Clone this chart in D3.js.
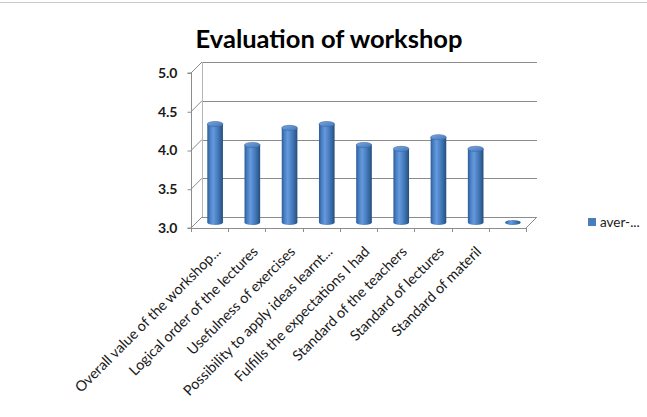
<!DOCTYPE html>
<html>
<head>
<meta charset="utf-8">
<script src="https://cdn.jsdelivr.net/npm/d3@7/dist/d3.min.js"></script>
<style>
  html, body { margin: 0; padding: 0; background: #fff; }
  svg { display: block; }
</style>
</head>
<body>
<svg id="chart" width="647" height="417"></svg>
<script>
// Workshop evaluation: average score per question (scale 3.0 - 5.0)
const categories = [
  "Overall value of the workshop...",
  "Logical order of the lectures",
  "Usefulness of exercises",
  "Possibility to apply ideas learnt...",
  "Fulfills the expectations I had",
  "Standard of the teachers",
  "Standard of lectures",
  "Standard of materil",
  ""
];
const averages = [4.27, 4.00, 4.22, 4.27, 4.00, 3.95, 4.10, 3.95, null];
const yTicks = [3.0, 3.5, 4.0, 4.5, 5.0];
const seriesName = "aver-...";
const titleText = "Evaluation of workshop";

const svg = d3.select("#chart");
const font = "Lato, 'Open Sans', sans-serif";

// frame of the chart area
svg.append("line").attr("x1", 0).attr("x2", 647).attr("y1", 2.5).attr("y2", 2.5)
  .attr("stroke", "#c8c8c8");

// front face of the 3-D plot box and its depth offset
const plotLeft = 191, plotRight = 526, plotBottom = 228, plotTop = 73;
const depthX = 11, depthY = -11;

const x = d3.scaleBand().domain(categories).range([plotLeft, plotRight])
  .paddingInner(0.58).paddingOuter(0.29);
const y = d3.scaleLinear().domain([yTicks[0], yTicks[yTicks.length - 1]]).range([plotBottom, plotTop]);

const gridColor = "#8c8c8c";
const walls = svg.append("g").attr("fill", "none").attr("stroke", gridColor).attr("stroke-width", 1);

// back-wall gridlines and side-wall diagonals
yTicks.forEach(t => {
  const yy = Math.round(y(t) + depthY) + 0.5;
  walls.append("line").attr("x1", plotLeft + depthX).attr("x2", plotRight + depthX).attr("y1", yy).attr("y2", yy);
  walls.append("line").attr("x1", plotLeft).attr("y1", y(t)).attr("x2", plotLeft + depthX).attr("y2", y(t) + depthY);
});
// back wall corner
walls.append("line").attr("x1", plotLeft + depthX + 0.5).attr("x2", plotLeft + depthX + 0.5)
  .attr("y1", y(yTicks[yTicks.length - 1]) + depthY).attr("y2", y(yTicks[0]) + depthY).attr("stroke", "#b5b5b5");
// floor front edge and right edge
walls.append("line").attr("x1", plotLeft).attr("x2", plotRight).attr("y1", plotBottom + 0.5).attr("y2", plotBottom + 0.5);
walls.append("line").attr("x1", plotRight).attr("y1", plotBottom).attr("x2", plotRight + depthX).attr("y2", plotBottom + depthY);

// value axis on the front-left edge
const yAxis = d3.axisLeft(y).tickValues(yTicks).tickFormat(d3.format(".1f")).tickSize(4).tickPadding(10);
const gy = svg.append("g").attr("transform", `translate(${plotLeft + 0.5},0)`).call(yAxis);
gy.select(".domain").attr("stroke", gridColor).attr("d", `M-4,${y(yTicks[yTicks.length - 1])}H0V${plotBottom}H-4`);
gy.selectAll(".tick line").attr("stroke", gridColor);
gy.selectAll(".tick text").attr("fill", "#1a1a1a")
  .style("font-family", font).style("font-size", "14px").style("font-weight", "bold");

// category ticks along the front floor edge (band boundaries)
const gap = x.step() - x.bandwidth();
const tickXs = categories.map(c => x(c) - gap / 2);
tickXs.push(plotRight);
svg.append("g").selectAll("line").data(tickXs).join("line")
  .attr("x1", d => Math.round(d) + 0.5).attr("x2", d => Math.round(d) + 0.5)
  .attr("y1", plotBottom).attr("y2", plotBottom + 4).attr("stroke", gridColor);

// category labels, rotated
svg.append("g").selectAll("text").data(categories).join("text")
  .attr("transform", c => `translate(${x(c) + x.bandwidth() / 2 + 8.5},${plotBottom + 21}) rotate(-45)`)
  .attr("text-anchor", "end").attr("dy", "0.35em")
  .attr("fill", "#1a1a1a")
  .style("font-family", font).style("font-size", "14.4px")
  .text(c => c);

// cylinder shading
const defs = svg.append("defs");
const body = defs.append("linearGradient").attr("id", "cylBody").attr("x1", "0").attr("x2", "1").attr("y1", "0").attr("y2", "0");
[["0%", "#2d5c98"], ["18%", "#4a80c4"], ["38%", "#659bdc"], ["60%", "#4c82c6"], ["85%", "#33649c"], ["100%", "#264c7c"]]
  .forEach(([o, c]) => body.append("stop").attr("offset", o).attr("stop-color", c));
const cap = defs.append("linearGradient").attr("id", "cylTop").attr("x1", "0").attr("x2", "1").attr("y1", "0").attr("y2", "1");
[["0%", "#78a7e2"], ["100%", "#4376b6"]]
  .forEach(([o, c]) => cap.append("stop").attr("offset", o).attr("stop-color", c));

const bw = x.bandwidth();
const ry = 2.6;
const bars = svg.append("g").selectAll("g").data(categories.map((c, i) => ({ c, v: averages[i] }))).join("g");
bars.each(function (d) {
  const g = d3.select(this);
  const cx = x(d.c) + bw / 2 + depthX / 2;
  const base = y(yTicks[0]) + depthY / 2;
  if (d.v == null) {
    g.append("ellipse").attr("cx", cx).attr("cy", base).attr("rx", bw / 2).attr("ry", ry)
      .attr("fill", "url(#cylBody)");
    return;
  }
  const topY = y(d.v) + depthY / 2;
  g.append("ellipse").attr("cx", cx).attr("cy", base).attr("rx", bw / 2).attr("ry", ry).attr("fill", "url(#cylBody)");
  g.append("rect").attr("x", cx - bw / 2).attr("y", topY).attr("width", bw).attr("height", base - topY)
    .attr("fill", "url(#cylBody)");
  g.append("ellipse").attr("cx", cx).attr("cy", topY).attr("rx", bw / 2).attr("ry", ry)
    .attr("fill", "url(#cylTop)").attr("stroke", "#3a6aa6").attr("stroke-width", 0.6);
});

// title
svg.append("text").attr("x", 329).attr("y", 48).attr("text-anchor", "middle")
  .attr("fill", "#000")
  .style("font-family", font).style("font-size", "25.5px").style("font-weight", "bold")
  .text(titleText);

// legend
const legend = svg.append("g").attr("transform", "translate(588,218)");
legend.append("rect").attr("width", 8).attr("height", 8).attr("fill", "#4a7ebb");
legend.append("text").attr("x", 12).attr("y", 4.5).attr("dy", "0.35em")
  .attr("fill", "#1a1a1a")
  .style("font-family", font).style("font-size", "13.5px")
  .text(seriesName);
</script>
</body>
</html>
